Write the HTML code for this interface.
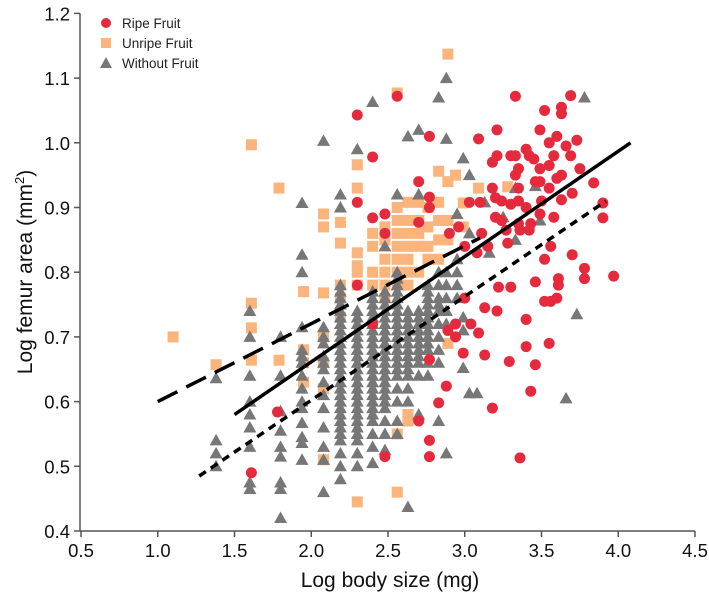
<!DOCTYPE html>
<html><head><meta charset="utf-8"><style>
body{margin:0;background:#fff}
svg{display:block;font-family:"Liberation Sans",sans-serif}
</style></head><body>
<svg id="chart" width="709" height="602" viewBox="0 0 709 602">
<g id="marks"></g>
<g id="fits"></g>
<g id="axes"></g>
<g>
<circle cx="106" cy="23" r="5" fill="#e62a3e"/>
<text x="122" y="28" font-size="13.5" fill="#222">Ripe Fruit</text>
<rect x="101" y="38" width="10" height="10" fill="#fbb47b"/>
<text x="122" y="48" font-size="13.5" fill="#222">Unripe Fruit</text>
<polygon points="106,57 112,68 100,68" fill="#777"/>
<text x="122" y="68" font-size="13.5" fill="#222">Without Fruit</text>
</g>
<text x="390" y="587" font-size="21" text-anchor="middle" fill="#111">Log body size (mg)</text>
<text transform="translate(32,272) rotate(-90)" font-size="21" text-anchor="middle" fill="#111">Log femur area (mm<tspan font-size="13" dy="-8">2</tspan><tspan dy="8">)</tspan></text>
</svg>
<script>
const xTicks=[0.5,1.0,1.5,2.0,2.5,3.0,3.5,4.0,4.5];
const yTicks=[0.4,0.5,0.6,0.7,0.8,0.9,1.0,1.1,1.2];
const unripe=[[1.10,.70],[1.38,.657],[1.61,.997],[1.61,.752],[1.61,.714],[1.61,.664],[1.79,.93],[1.79,.664],[1.95,.77],[1.95,.68],[1.95,.66],[1.95,.63],[2.08,.89],[2.08,.87],[2.08,.768],[2.08,.70],[2.08,.66],[2.08,.62],[2.08,.51],[2.19,.877],[2.19,.845],[2.19,.78],[2.19,.76],[2.19,.73],[2.30,.966],[2.30,.93],[2.30,.83],[2.30,.81],[2.30,.80],[2.30,.78],[2.30,.445],[2.40,.86],[2.40,.84],[2.40,.80],[2.40,.78],[2.48,.87],[2.48,.85],[2.48,.82],[2.48,.80],[2.48,.78],[2.48,.76],[2.56,1.077],[2.56,.90],[2.56,.88],[2.56,.86],[2.56,.84],[2.56,.82],[2.56,.80],[2.56,.78],[2.56,.55],[2.56,.46],[2.63,.908],[2.63,.88],[2.63,.86],[2.63,.84],[2.63,.82],[2.63,.80],[2.63,.78],[2.63,.58],[2.63,.57],[2.70,.908],[2.70,.88],[2.70,.86],[2.70,.84],[2.70,.80],[2.76,.90],[2.76,.87],[2.76,.84],[2.76,.82],[2.83,.956],[2.83,.908],[2.83,.88],[2.83,.85],[2.83,.82],[2.89,1.137],[2.89,.94],[2.89,.88],[2.89,.85],[2.89,.69],[2.94,.95],[2.99,.907],[2.99,.87],[3.09,.93],[3.28,.932]];
const without=[[1.38,.636],[1.38,.54],[1.38,.52],[1.38,.50],
[1.6,.74],[1.6,.70],[1.6,.64],[1.6,.60],[1.6,.58],[1.6,.56],[1.6,.53],[1.6,.475],[1.6,.465],
[1.8,.70],[1.8,.64],[1.8,.585],[1.8,.555],[1.8,.53],[1.8,.515],[1.8,.475],[1.8,.465],[1.8,.42],
[1.94,.907],[1.94,.827],[1.94,.80],[1.94,.715],[1.94,.68],[1.94,.67],[1.94,.66],[1.94,.64],[1.94,.62],[1.94,.60],[1.94,.59],[1.94,.567],[1.94,.545],[1.94,.536],[1.94,.51],
[2.08,1.003],[2.08,.715],[2.08,.70],[2.08,.69],[2.08,.67],[2.08,.66],[2.08,.65],[2.08,.63],[2.08,.61],[2.08,.59],[2.08,.56],[2.08,.53],[2.08,.51],[2.08,.46],
[2.19,.92],[2.19,.90],[2.19,.78],[2.19,.77],[2.19,.76],[2.19,.75],[2.19,.74],[2.19,.73],[2.19,.72],[2.19,.71],[2.19,.70],[2.19,.69],[2.19,.68],[2.19,.67],[2.19,.66],[2.19,.65],[2.19,.64],[2.19,.63],[2.19,.62],[2.19,.61],[2.19,.60],[2.19,.59],[2.19,.58],[2.19,.57],[2.19,.56],[2.19,.55],[2.19,.54],[2.19,.52],[2.19,.50],[2.19,.48],
[2.3,.99],[2.3,.74],[2.3,.73],[2.3,.72],[2.3,.71],[2.3,.70],[2.3,.69],[2.3,.68],[2.3,.67],[2.3,.66],[2.3,.65],[2.3,.64],[2.3,.63],[2.3,.62],[2.3,.61],[2.3,.60],[2.3,.59],[2.3,.58],[2.3,.57],[2.3,.56],[2.3,.55],[2.3,.54],[2.3,.52],[2.3,.50],
[2.4,1.063],[2.4,.77],[2.4,.76],[2.4,.75],[2.4,.74],[2.4,.73],[2.4,.72],[2.4,.71],[2.4,.70],[2.4,.69],[2.4,.68],[2.4,.67],[2.4,.66],[2.4,.65],[2.4,.64],[2.4,.63],[2.4,.62],[2.4,.61],[2.4,.60],[2.4,.59],[2.4,.58],[2.4,.57],[2.4,.55],[2.4,.53],[2.4,.505],
[2.48,.84],[2.48,.77],[2.48,.76],[2.48,.75],[2.48,.74],[2.48,.73],[2.48,.72],[2.48,.71],[2.48,.70],[2.48,.69],[2.48,.68],[2.48,.67],[2.48,.66],[2.48,.65],[2.48,.64],[2.48,.63],[2.48,.62],[2.48,.61],[2.48,.60],[2.48,.59],[2.48,.57],[2.48,.55],[2.48,.525],
[2.56,.92],[2.56,.80],[2.56,.79],[2.56,.78],[2.56,.77],[2.56,.76],[2.56,.75],[2.56,.74],[2.56,.73],[2.56,.72],[2.56,.71],[2.56,.70],[2.56,.69],[2.56,.68],[2.56,.67],[2.56,.66],[2.56,.65],[2.56,.64],[2.56,.62],[2.56,.60],[2.56,.57],[2.56,.55],
[2.63,1.01],[2.63,.74],[2.63,.73],[2.63,.72],[2.63,.71],[2.63,.70],[2.63,.69],[2.63,.68],[2.63,.67],[2.63,.66],[2.63,.65],[2.63,.64],[2.63,.62],[2.63,.60],[2.63,.437],
[2.7,1.02],[2.7,.92],[2.7,.74],[2.7,.73],[2.7,.72],[2.7,.71],[2.7,.70],[2.7,.69],[2.7,.68],[2.7,.67],[2.7,.66],[2.7,.64],[2.7,.58],
[2.76,.78],[2.76,.77],[2.76,.76],[2.76,.75],[2.76,.74],[2.76,.73],[2.76,.72],[2.76,.71],[2.76,.70],[2.76,.69],[2.76,.68],[2.76,.66],[2.76,.64],
[2.83,1.07],[2.83,.80],[2.83,.78],[2.83,.76],[2.83,.75],[2.83,.74],[2.83,.72],[2.83,.70],[2.83,.68],[2.83,.66],[2.83,.57],
[2.88,1.10],[2.88,1.006],[2.88,.80],[2.88,.78],[2.88,.76],[2.88,.74],[2.88,.72],[2.88,.52],
[2.95,.89],[2.95,.82],[2.95,.80],[2.95,.78],[2.95,.76],[2.99,.976],[2.99,.73],[2.99,.71],[2.99,.652],
[3.03,.95],[3.03,.86],[3.03,.613],[3.08,.613],[3.13,.908],[3.16,.83],[3.25,.885],[3.33,.93],[3.33,.85],[3.46,.933],[3.49,.88],[3.73,.735],[3.66,.605],[3.78,1.07]];
const ripe=[[2.30,1.043],[2.40,.978],[2.30,.908],[2.40,.884],[2.48,.89],[2.48,.86],[2.56,1.072],[2.77,1.01],[3.09,1.006],[3.21,1.02],[3.33,1.072],[3.69,1.073],[3.52,1.05],[3.63,1.055],[3.63,1.045],[3.49,1.02],[3.55,1.0],[3.6,1.01],[3.66,.995],[3.73,1.004],[3.4,.99],[3.42,.98],[3.69,.98],[3.58,.98],[3.21,.98],[3.3,.98],[3.33,.98],[3.18,.97],[3.35,.96],[3.45,.975],[3.49,.96],[3.55,.965],[3.63,.95],[3.75,.96],[3.33,.95],[3.18,.93],[3.35,.93],[3.46,.94],[3.49,.94],[3.55,.93],[3.6,.945],[3.84,.938],[2.70,.94],[2.77,.916],[2.77,.90],[2.70,.877],[3.03,.908],[3.1,.908],[3.2,.915],[3.24,.91],[3.3,.905],[3.35,.91],[3.4,.90],[3.5,.91],[3.63,.912],[3.7,.922],[3.9,.907],[3.9,.884],[3.2,.885],[3.24,.88],[3.35,.875],[3.43,.875],[3.49,.89],[3.58,.885],[2.96,.87],[3.11,.86],[3.27,.865],[3.42,.865],[3.36,.865],[2.9,.86],[3.0,.84],[3.08,.83],[3.15,.84],[3.28,.845],[3.52,.82],[3.56,.84],[3.7,.827],[3.78,.806],[3.97,.794],[3.46,.785],[3.61,.79],[3.61,.78],[3.78,.79],[3.22,.777],[3.3,.777],[3.52,.755],[3.56,.755],[3.6,.76],[3.21,.74],[3.40,.727],[3.13,.745],[3.0,.76],[2.94,.72],[3.04,.72],[3.09,.706],[2.89,.71],[2.94,.70],[2.99,.675],[3.13,.672],[3.40,.685],[3.55,.69],[3.29,.662],[3.46,.657],[2.77,.665],[2.88,.624],[3.43,.616],[2.83,.598],[3.18,.59],[2.7,.57],[2.77,.54],[2.77,.515],[2.48,.515],[3.36,.513],[1.61,.49],[1.78,.584],[2.40,.72],[2.30,.78]];
const solidFit=[[1.5,0.58],[4.08,1.0]];
const dashedFit=[[1.0,0.60],[3.1,0.853]];
const dottedFit=[[1.27,0.485],[3.92,0.91]];

const NS="http://www.w3.org/2000/svg";
function sx(v){return 81+(v-0.5)*153.5;}
function sy(v){return 531-(v-0.4)*647;}
function mk(tag,attrs,parent){const e=document.createElementNS(NS,tag);for(const k in attrs)e.setAttribute(k,attrs[k]);parent.appendChild(e);return e;}
const marks=document.getElementById('marks');
unripe.forEach(d=>{const e=mk('rect',{x:sx(d[0])-5.5,y:sy(d[1])-5.5,width:11,height:11,fill:'#fbb47b'},marks);

});
without.forEach(d=>{const x=sx(d[0]),y=sy(d[1]);const e=mk('polygon',{points:`${x},${y-6.5} ${x+6.5},${y+5} ${x-6.5},${y+5}`,fill:'#777'},marks);

});
ripe.forEach(d=>{const e=mk('circle',{cx:sx(d[0]),cy:sy(d[1]),r:5.5,fill:'#e62a3e'},marks);

});
const fits=document.getElementById('fits');
[[solidFit,'none','solid-fit-line'],[dashedFit,'22,10','dashed-fit-line'],[dottedFit,'8,6','dotted-fit-line']].forEach(f=>{
const e=mk('line',{x1:sx(f[0][0][0]),y1:sy(f[0][0][1]),x2:sx(f[0][1][0]),y2:sy(f[0][1][1]),stroke:'#000','stroke-width':3.5,'stroke-dasharray':f[1]},fits);

});
const axes=document.getElementById('axes');
const ya=mk('line',{x1:80,y1:sy(1.2),x2:80,y2:531,stroke:'#555','stroke-width':1.5},axes);


const xa=mk('line',{x1:80,y1:531,x2:sx(4.5),y2:531,stroke:'#555','stroke-width':1.5},axes);


xTicks.forEach(t=>{mk('line',{x1:sx(t),y1:531,x2:sx(t),y2:537,stroke:'#555','stroke-width':1.5},axes);
const tx=mk('text',{x:sx(t),y:557,'font-size':18.5,'text-anchor':'middle',fill:'#111'},axes);tx.textContent=t.toFixed(1);

});
yTicks.forEach(t=>{mk('line',{x1:74,y1:sy(t),x2:80,y2:sy(t),stroke:'#555','stroke-width':1.5},axes);
const tx=mk('text',{x:70,y:sy(t)+7,'font-size':18.5,'text-anchor':'end',fill:'#111'},axes);tx.textContent=t.toFixed(1);

});
</script>
</body></html>
